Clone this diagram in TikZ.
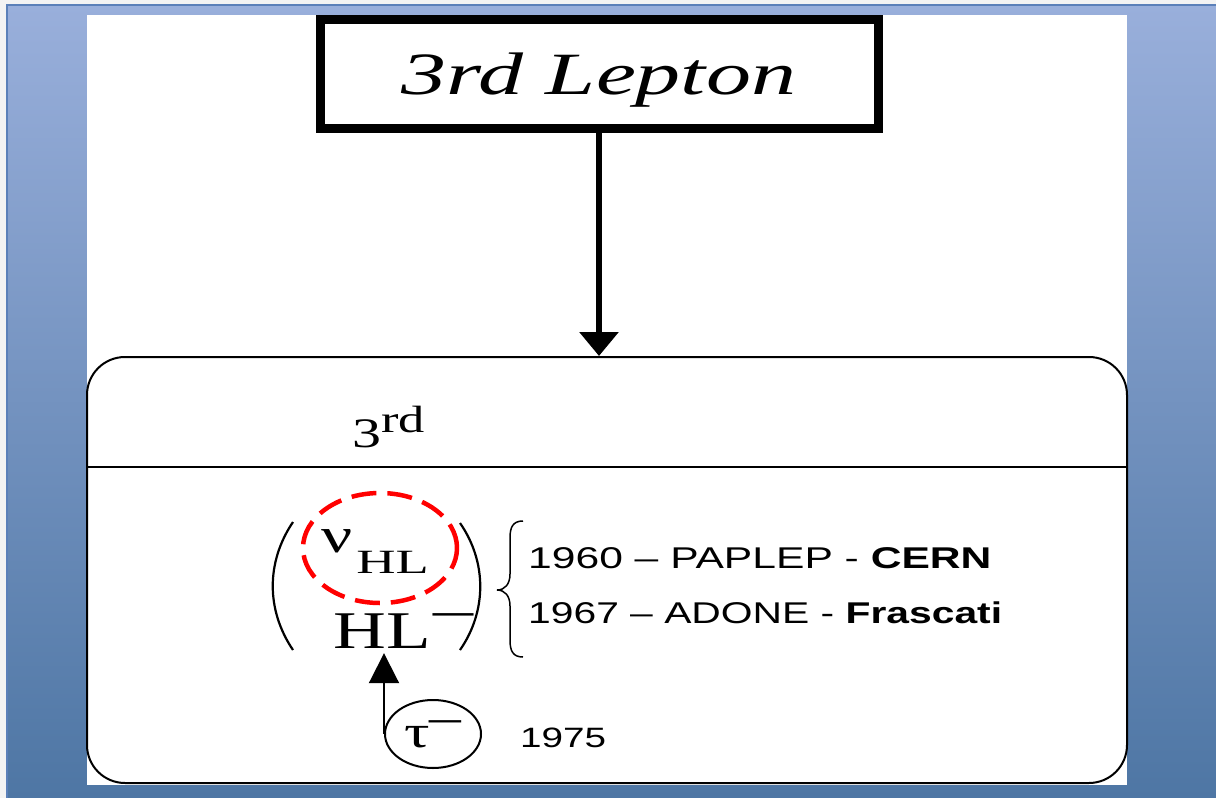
\documentclass[tikz,border=0pt]{standalone}
\usepackage{fontspec}
\usepackage{graphicx}
\setmainfont{Liberation Serif}
\newfontfamily\notefont{Liberation Sans}
\usetikzlibrary{arrows.meta,shapes.geometric,positioning}

\definecolor{slidetop}{HTML}{99AFDB}
\definecolor{slidebottom}{HTML}{4E76A4}
\definecolor{slideedge}{HTML}{5B80B9}
\definecolor{margin}{HTML}{F3F3F3}

% text on the slide is stretched sideways
\newcommand{\wide}[2][1.38]{\scalebox{#1}[1]{#2}}

\begin{document}
\begin{tikzpicture}[x=1pt, y=-1pt,
    titlebox/.style={draw, line width=9pt, minimum width=558pt, minimum height=108.5pt, inner sep=0pt, text depth=0pt},
    genbox/.style={draw, line width=2pt, rounded corners=38pt, minimum width=1040pt, minimum height=426pt},
    word/.style={inner sep=0pt, anchor=base west},
    ring/.style={draw=red, line width=4.5pt, dash pattern=on 25pt off 11pt, ellipse, minimum width=154pt, minimum height=110pt},
    oval/.style={draw, line width=2pt, ellipse, inner sep=0pt, minimum width=96pt, minimum height=68pt}]
    \useasboundingbox (0,0) rectangle (1216,798);

    % slide background and white page
    \fill[margin] (0,0) rectangle (1216,798);
    \shade[top color=slidetop, bottom color=slidebottom] (7,5) rectangle (1216,798);
    \draw[slideedge, line width=1.5pt] (7,798) -- (7,5) -- (1216,5);
    \fill[white] (87,15) rectangle (1127,785);

    \node[titlebox] (lepton) at (599,73.75) {\wide[1.5]{\itshape\fontsize{60}{64}\selectfont 3rd Lepton}};
    \node[genbox] (gen) at (607,570) {};
    \coordinate (split) at (607,467);
    \draw[line width=1.5pt] (gen.west |- split) -- (gen.east |- split);
    \draw[line width=6pt, -{Triangle[length=24pt, width=38pt]}] (lepton.south) -- (lepton.south |- gen.north);

    \node[word] (third) at (352,447) {\wide{\fontsize{42}{46}\selectfont 3\raisebox{15pt}{\fontsize{38}{40}\selectfont rd}}};

    % doublet in brackets
    \node[word] (nu) at (321,552) {\wide{\fontsize{50}{52}\selectfont ν}\kern4pt\raisebox{-21pt}{\wide[1.6]{\fontsize{34}{36}\selectfont HL}}};
    \node[word] (hl) at (333,648) {\wide{\fontsize{53}{56}\selectfont HL}\kern3pt\raisebox{22pt}{\wide[1.6]{\fontsize{50}{52}\selectfont –}}};
    \node[ring] (ring) at (380,548) {};
    \draw[line width=2.2pt] (293,522) .. controls (266,562) and (266,610) .. (293,650);
    \draw[line width=2.2pt] (460,523) .. controls (487,562) and (487,611) .. (460,650);
    \draw[line width=1.5pt] (523,521) .. controls (513,521) and (510,527) .. (510,538) -- (510,574)
        .. controls (510,584) and (505,590) .. (497,590) .. controls (505,590) and (510,596) .. (510,606)
        -- (510,640) .. controls (510,651) and (513,657) .. (523,657);

    \node[word] (cern) at (528,568) {\wide[1.42]{\notefont\fontsize{30}{34}\selectfont 1960 – PAPLEP - \textbf{CERN}}};
    \node[word] (frascati) at (528,623) {\wide[1.36]{\notefont\fontsize{30}{34}\selectfont 1967 – ADONE - \textbf{Frascati}}};

    \node[oval] (tau) at (433,734) {\wide{\fontsize{46}{48}\selectfont τ\raisebox{15pt}{–}}};
    \node[word] (year) at (520,747) {\wide{\notefont\fontsize{28}{32}\selectfont 1975}};
    \draw[line width=2pt, -{Triangle[length=30pt, width=30pt]}, shorten >=5pt] (tau.west) -- (tau.west |- hl.south);
\end{tikzpicture}
\end{document}
